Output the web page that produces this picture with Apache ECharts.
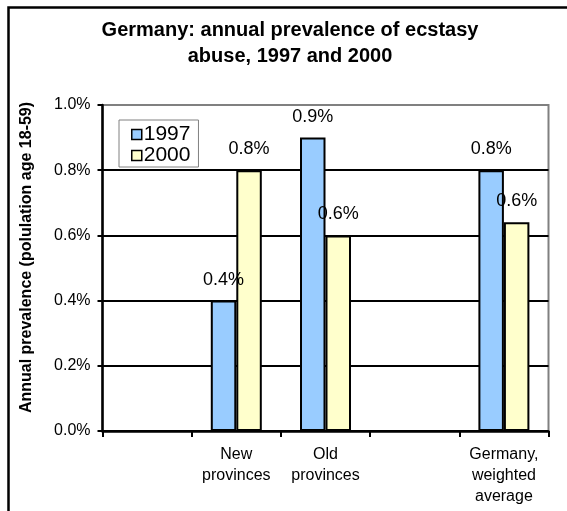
<!DOCTYPE html>
<html>
<head>
<meta charset="utf-8">
<script src="https://cdn.jsdelivr.net/npm/echarts@6/dist/echarts.min.js"></script>
<style>
html,body{margin:0;padding:0;background:#fff;}
#chart{width:567px;height:511px;}
</style>
</head>
<body>
<div id="chart"></div>
<script>
const titleLines = ['Germany: annual prevalence of ecstasy', 'abuse, 1997 and 2000'];
const yAxisTitle = 'Annual prevalence (polulation age 18-59)';
const categories = ['', 'New\nprovinces', 'Old\nprovinces', '', 'Germany,\nweighted\naverage'];
const seriesNames = ['1997', '2000'];
const values1997 = [null, 0.4, 0.9, null, 0.8];
const values2000 = [null, 0.8, 0.6, null, 0.64];
const yTicks = [0, 0.2, 0.4, 0.6, 0.8, 1.0];

const FONT = '"Liberation Sans", Arial, sans-serif';
const chart = echarts.init(document.getElementById('chart'), null, {renderer: 'canvas'});

function barSeries(name, data, color) {
  return {
    name: name,
    type: 'bar',
    data: data,
    barWidth: 25.5,
    barGap: '0%',
    itemStyle: {color: color, borderColor: '#000', borderWidth: 2},
    label: {
      show: true,
      position: 'top',
      distance: 12,
      color: '#000',
      fontFamily: FONT,
      fontSize: 18,
      formatter: p => p.value == null ? '' : p.value.toFixed(1) + '%'
    },
    emphasis: {disabled: true}
  };
}

chart.setOption({
  animation: false,
  backgroundColor: '#fff',
  title: {
    text: titleLines.join('\n'),
    left: 285,
    textAlign: 'center',
    top: 12.5,
    textStyle: {fontFamily: FONT, fontSize: 20, fontWeight: 'bold', lineHeight: 26, color: '#000'}
  },
  legend: {
    data: seriesNames,
    orient: 'vertical',
    left: 119,
    top: 120,
    padding: [4, 8, 1, 12],
    itemGap: 0,
    itemWidth: 10,
    itemHeight: 10,
    icon: 'rect',
    borderColor: '#808080',
    borderWidth: 1,
    backgroundColor: '#fff',
    textStyle: {fontFamily: FONT, fontSize: 21, lineHeight: 20, color: '#000', padding: [0, 0, 0, -3]},
    itemStyle: {borderColor: '#000', borderWidth: 1.5}
  },
  grid: {
    left: 102.5, right: 18.5, top: 105, bottom: 80,
    show: true, borderColor: '#808080', borderWidth: 2, backgroundColor: '#fff'
  },
  xAxis: {
    type: 'category',
    data: categories,
    axisLine: {lineStyle: {color: '#000', width: 2.5}},
    axisTick: {show: true, length: 6, lineStyle: {color: '#000', width: 2}},
    axisLabel: {fontFamily: FONT, fontSize: 16, lineHeight: 21, color: '#000', margin: 13.5, interval: 0}
  },
  yAxis: {
    type: 'value',
    min: yTicks[0],
    max: yTicks[yTicks.length - 1],
    interval: 0.2,
    axisLine: {show: true, lineStyle: {color: '#000', width: 2.5}},
    axisTick: {show: true, length: 5, lineStyle: {color: '#000', width: 2}},
    axisLabel: {fontFamily: FONT, fontSize: 16, color: '#000', margin: 12,
      formatter: v => v.toFixed(1) + '%'},
    splitLine: {show: true, showMaxLine: false, lineStyle: {color: '#000', width: 2}}
  },
  series: [
    barSeries(seriesNames[0], values1997, '#99CCFF'),
    barSeries(seriesNames[1], values2000, '#FFFFCC')
  ],
  graphic: [
    {
      type: 'rect',
      shape: {x: 8.5, y: 7.5, width: 700, height: 700},
      style: {fill: 'none', stroke: '#000', lineWidth: 2.5},
      silent: true, z: 100
    },
    {
      type: 'text',
      x: 26.7, y: 257.5,
      rotation: Math.PI / 2,
      style: {text: yAxisTitle, font: 'bold 16px ' + FONT, fill: '#000', align: 'center', verticalAlign: 'middle'},
      silent: true
    }
  ]
});
</script>
</body>
</html>
